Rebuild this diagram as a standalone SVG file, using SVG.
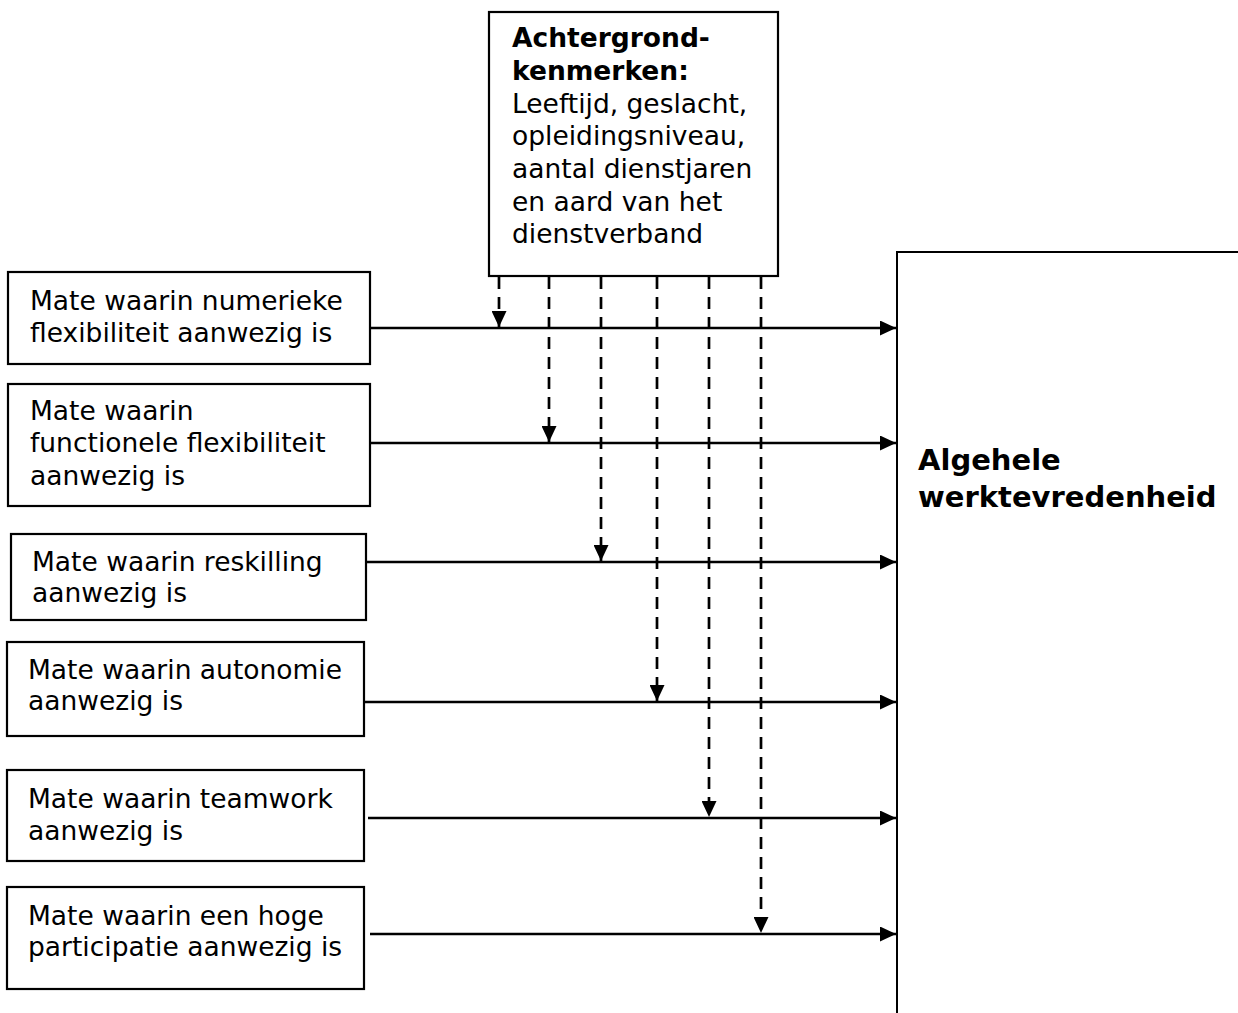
<svg xmlns="http://www.w3.org/2000/svg" width="1238" height="1013" viewBox="0 0 1238 1013">
<style>
.box{fill:#fff;stroke:#000;stroke-width:2.2}
.t{font-family:"DejaVu Sans",Verdana,sans-serif;font-size:26.5px;fill:#000}
.b{font-weight:bold}
.big{font-size:29px}
.solid{stroke:#000;stroke-width:2.5;fill:none}
.dash{stroke:#000;stroke-width:2.7;fill:none;stroke-dasharray:12 8}
</style>
<defs>
<marker id="ah" viewBox="0 0 16 15" refX="16" refY="7.5" markerWidth="16" markerHeight="15" markerUnits="userSpaceOnUse" orient="auto">
<path d="M0,0 L16,7.5 L0,15 Z" fill="#000"/>
</marker>
</defs>
<rect width="1238" height="1013" fill="#fff"/>
<g id="n-achtergrond">
<rect class="box" x="489" y="12" width="289" height="264"/>
<text class="t" x="512"><tspan class="b" x="512" y="47">Achtergrond-</tspan><tspan class="b" x="512" y="80">kenmerken:</tspan><tspan x="512" y="113">Leeftijd, geslacht,</tspan><tspan x="512" y="145">opleidingsniveau,</tspan><tspan x="512" y="178">aantal dienstjaren</tspan><tspan x="512" y="211">en aard van het</tspan><tspan x="512" y="243">dienstverband</tspan></text>
</g>
<g id="n-werktevredenheid">
<path class="solid" d="M897,1013 V252 H1238" style="stroke-width:2"/>
<text class="t b big" x="918" y="470">Algehele</text>
<text class="t b big" x="918" y="507">werktevredenheid</text>
</g>
<g id="n-numerieke">
<rect class="box" x="8" y="272" width="362" height="92"/>
<text class="t"><tspan x="30" y="310">Mate waarin numerieke</tspan><tspan x="30" y="342">flexibiliteit aanwezig is</tspan></text>
</g>
<g id="n-functionele">
<rect class="box" x="8" y="384" width="362" height="122"/>
<text class="t"><tspan x="30" y="420">Mate waarin</tspan><tspan x="30" y="452">functionele flexibiliteit</tspan><tspan x="30" y="485">aanwezig is</tspan></text>
</g>
<g id="n-reskilling">
<rect class="box" x="11" y="534" width="355" height="86"/>
<text class="t"><tspan x="32" y="571">Mate waarin reskilling</tspan><tspan x="32" y="602">aanwezig is</tspan></text>
</g>
<g id="n-autonomie">
<rect class="box" x="7" y="642" width="357" height="94"/>
<text class="t"><tspan x="28" y="679">Mate waarin autonomie</tspan><tspan x="28" y="710">aanwezig is</tspan></text>
</g>
<g id="n-teamwork">
<rect class="box" x="7" y="770" width="357" height="91"/>
<text class="t"><tspan x="28" y="808">Mate waarin teamwork</tspan><tspan x="28" y="840">aanwezig is</tspan></text>
</g>
<g id="n-participatie">
<rect class="box" x="7" y="887" width="357" height="102"/>
<text class="t"><tspan x="28" y="925">Mate waarin een hoge</tspan><tspan x="28" y="956">participatie aanwezig is</tspan></text>
</g>
<g id="connectors">
<path class="solid" d="M370,328 H896" marker-end="url(#ah)"/>
<path class="solid" d="M370,443 H896" marker-end="url(#ah)"/>
<path class="solid" d="M366,562 H896" marker-end="url(#ah)"/>
<path class="solid" d="M364,702 H896" marker-end="url(#ah)"/>
<path class="solid" d="M368,818 H896" marker-end="url(#ah)"/>
<path class="solid" d="M370,934 H896" marker-end="url(#ah)"/>
<path class="dash" d="M499,277 V327" marker-end="url(#ah)"/>
<path class="dash" d="M549,277 V442" marker-end="url(#ah)"/>
<path class="dash" d="M601,277 V561" marker-end="url(#ah)"/>
<path class="dash" d="M657,277 V701" marker-end="url(#ah)"/>
<path class="dash" d="M709,277 V817" marker-end="url(#ah)"/>
<path class="dash" d="M761,277 V933" marker-end="url(#ah)"/>
</g>
</svg>
